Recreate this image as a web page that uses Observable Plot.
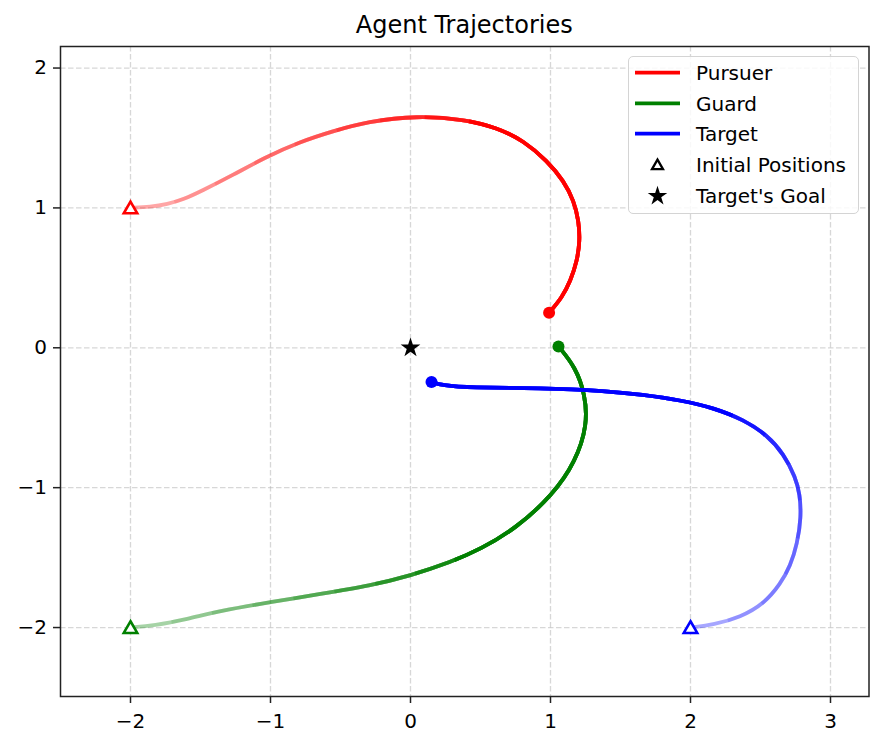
<!DOCTYPE html>
<html>
<head>
<meta charset="utf-8">
<script src="https://cdn.jsdelivr.net/npm/d3@7"></script>
<script src="https://cdn.jsdelivr.net/npm/@observablehq/plot@0.6"></script>
<style>
  html, body { margin: 0; padding: 0; background: #fff; }
  #wrap { position: relative; width: 884px; height: 746px; font-family: "DejaVu Sans", sans-serif; color: #000; }
  #title { position: relative; height: 45px; }
  #title span { position: absolute; left: 60px; width: 808.5px; top: 12.5px; text-align: center;
    font-size: 24px; line-height: 24px; white-space: nowrap; }
  #chart svg { display: block; }
  #legend { position: absolute; left: 628px; top: 56px; width: 231px; height: 158px; box-sizing: border-box;
    border: 1.5px solid #d4d4d4; border-radius: 5px; background: rgba(255,255,255,0.82); }
  #legend svg { position: absolute; left: -1.5px; top: -1.5px; overflow: visible; }
</style>
</head>
<body>
<div id="wrap">
  <div id="title"><span>Agent Trajectories</span></div>
  <div id="chart"></div>
  <div id="legend"></div>
</div>
<script>
// ---- data ----
const agents = ["Pursuer", "Guard", "Target"];
const agentColors = ["red", "green", "blue"];

const pursuerX = [-2.00, -1.857, -1.738, -1.619, -1.50, -1.262, -1.048, -0.786, -0.548, -0.31, 0.05, 0.381, 0.619, 0.81, 0.976, 1.095, 1.167, 1.202, 1.21, 1.19, 1.143, 1.083, 0.99];
const pursuerY = [1.00, 1.007, 1.026, 1.062, 1.117, 1.238, 1.357, 1.474, 1.55, 1.617, 1.66, 1.633, 1.574, 1.479, 1.336, 1.193, 1.05, 0.907, 0.764, 0.621, 0.479, 0.36, 0.25];

const guardX = [-2.00, -1.833, -1.595, -1.357, -1.00, -0.643, -0.286, 0.00, 0.286, 0.50, 0.752, 1.016, 1.18, 1.264, 1.247, 1.18, 1.057];
const guardY = [-2.00, -1.986, -1.94, -1.879, -1.819, -1.76, -1.70, -1.629, -1.533, -1.44, -1.292, -1.053, -0.813, -0.549, -0.334, -0.141, 0.01];

const targetX = [2.00, 2.167, 2.357, 2.524, 2.643, 2.714, 2.762, 2.791, 2.781, 2.75, 2.667, 2.548, 2.381, 2.167, 1.929, 1.65, 1.411, 0.917, 0.423, 0.225, 0.15];
const targetY = [-2.00, -1.979, -1.926, -1.831, -1.688, -1.557, -1.402, -1.212, -1.045, -0.926, -0.76, -0.625, -0.515, -0.43, -0.374, -0.335, -0.309, -0.286, -0.286, -0.268, -0.245];

const goalX = [0];
const goalY = [0];

const xTicks = [-2, -1, 0, 1, 2, 3];
const yTicks = [-2, -1, 0, 1, 2];
const legendLabels = ["Pursuer", "Guard", "Target", "Initial Positions", "Target's Goal"];

// ---- build tables ----
const trajX = [pursuerX, guardX, targetX];
const trajY = [pursuerY, guardY, targetY];
const rowsFor = k => trajX[k].map((x, i) => ({agent: agents[k], x, y: trajY[k][i]}));
const starts = agents.map((a, k) => ({agent: a, x: trajX[k][0], y: trajY[k][0]}));
const ends = agents.map((a, k) => ({agent: a, x: trajX[k][trajX[k].length - 1], y: trajY[k][trajY[k].length - 1]}));
const goal = goalX.map((x, i) => ({x, y: goalY[i]}));

// fading: cumulative opacity ramps from 0.35 to 1 along the first part of each path
const LAYERS = 9;
const rampEnd = [0.58, 0.54, 0.5];
const cum = d3.range(LAYERS).map(L => 0.35 + 0.65 * L / (LAYERS - 1));
const layerOpacity = cum.map((c, L) => L === 0 ? c : (L === LAYERS - 1 ? 1 : 1 - (1 - c) / (1 - cum[L - 1])));

const minus = d => (d < 0 ? "\u2212" + (-d) : String(d));

const lineMarks = [];
agents.forEach((a, k) => {
  for (let L = 0; L < LAYERS; L++) {
    lineMarks.push(Plot.line(rowsFor(k), {
      x: "x", y: "y", stroke: "agent", curve: "basis",
      strokeWidth: 3.8, strokeOpacity: layerOpacity[L],
      strokeLinecap: L === 0 ? "round" : "butt"
    }));
  }
});

const chart = Plot.plot({
  width: 884,
  height: 701,
  marginTop: 1,
  marginBottom: 50,
  marginLeft: 60,
  marginRight: 15.5,
  style: {fontFamily: "DejaVu Sans, sans-serif", fontSize: "20px", color: "#000", background: "#fff"},
  x: {domain: [-2.5, 3.275]},
  y: {domain: [-2.493, 2.154]},
  color: {domain: agents, range: agentColors},
  marks: [
    Plot.gridX(xTicks, {stroke: "#b0b0b0", strokeOpacity: 0.5, strokeWidth: 1.3, strokeDasharray: "5.5,2.5"}),
    Plot.gridY(yTicks, {stroke: "#b0b0b0", strokeOpacity: 0.5, strokeWidth: 1.3, strokeDasharray: "5.5,2.5"}),
    Plot.axisX(xTicks, {tickSize: 7, tickPadding: 10, strokeWidth: 1.5, stroke: "#222", label: null, tickFormat: minus, fontSize: 20}),
    Plot.axisY(yTicks, {tickSize: 7, tickPadding: 6.5, strokeWidth: 1.5, stroke: "#222", label: null, tickFormat: minus, fontSize: 20}),
    ...lineMarks,
    Plot.dot(starts, {x: "x", y: "y", symbol: "triangle", r: 5, stroke: "agent", fill: "white", strokeWidth: 2.6, dy: 1.5}),
    Plot.dot(ends, {x: "x", y: "y", symbol: "circle", r: 6, fill: "agent", stroke: "none"}),
    Plot.dot(goal, {x: "x", y: "y", symbol: "star", r: 6.2, fill: "black", stroke: "none"}),
    Plot.frame({stroke: "#222", strokeWidth: 1.5})
  ]
});
document.getElementById("chart").appendChild(chart);

// hide the early part of each upper layer so the stacked opacity increases along the path
const lineGroups = chart.querySelectorAll('g[aria-label="line"]');
agents.forEach((a, k) => {
  for (let L = 1; L < LAYERS; L++) {
    const g = lineGroups[k * LAYERS + L];
    if (!g) continue;
    const frac = rampEnd[k] * L / (LAYERS - 1);
    g.querySelectorAll("path").forEach(p => {
      const total = p.getTotalLength();
      const D = frac * total;
      p.setAttribute("stroke-dasharray", `0 ${D} ${total + 20}`);
    });
  }
});

// ---- legend ----
const lg = d3.select("#legend").append("svg").attr("width", 231).attr("height", 158);
const rowY = [16.7, 47.3, 77.7, 108.8, 139.6];
const symX = 29.5;
legendLabels.forEach((lab, i) => {
  const y = rowY[i];
  if (i < 3) {
    lg.append("line").attr("x1", 7).attr("x2", 52).attr("y1", y).attr("y2", y)
      .attr("stroke", agentColors[i]).attr("stroke-width", 3.8);
  } else if (i === 3) {
    lg.append("path").attr("d", d3.symbol(d3.symbolTriangle, 52)())
      .attr("transform", `translate(${symX},${y + 1.2})`)
      .attr("fill", "white").attr("stroke", "black").attr("stroke-width", 2.3);
  } else {
    lg.append("path").attr("d", d3.symbol(d3.symbolStar, 118)())
      .attr("transform", `translate(${symX},${y + 0.5})`)
      .attr("fill", "black");
  }
  lg.append("text").attr("x", 68).attr("y", y).attr("dy", "0.36em")
    .attr("font-family", "DejaVu Sans, sans-serif").attr("font-size", 20).attr("fill", "#000")
    .text(lab);
});
</script>
</body>
</html>
